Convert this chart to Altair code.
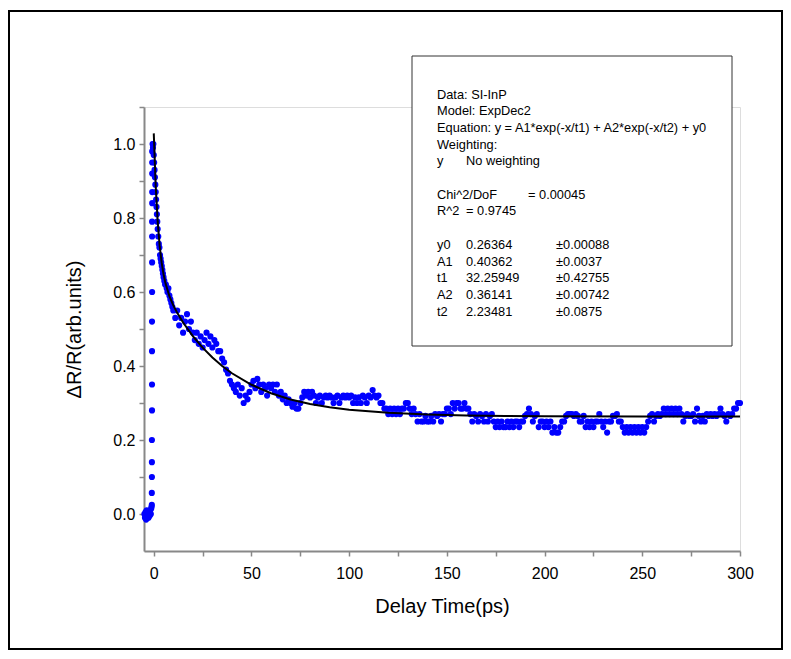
import altair as alt
import pandas as pd

# ---------------- data ----------------
pre_x = [-4.8, -4.5, -4.2, -3.9, -3.6, -3.3, -3.0, -2.7, -2.4, -2.1, -1.8, -1.5, -1.3, -1.1]
pre_y = [0.0, -0.01, 0.005, -0.015, 0.01, -0.005, 0.0, -0.01, 0.005, -0.005, 0.01, 0.0, 0.015, 0.02]

rise_x = [-1.0, -1.0, -0.95, -0.95, -0.95, -0.9, -0.9, -0.9, -0.9, -0.85, -0.85, -0.85, -0.85, -0.8, -0.8, -0.8, -0.8]
rise_y = [0.025, 0.057, 0.10, 0.14, 0.20, 0.28, 0.35, 0.44, 0.52, 0.60, 0.68, 0.75, 0.79, 0.84, 0.87, 0.92, 0.95]

early_x = [-0.8, -0.6, -0.4, -0.2, 0.0, 0.2, 0.4, 0.6, 0.8, 1.0, 1.2, 1.4, 1.6, 1.8, 2.0,
           2.3, 2.6, 2.9, 3.2, 3.5, 3.8, 4.1, 4.4, 4.7, 5.0, 5.4, 5.8, 6.2, 6.6, 7.0,
           7.5, 8.0, 8.5, 9.0, 9.5]
early_y = [0.98, 1.0, 0.99, 1.0, 0.97, 0.95, 0.93, 0.91, 0.89, 0.87, 0.85, 0.83, 0.81, 0.79, 0.77,
           0.75, 0.73, 0.72, 0.70, 0.69, 0.68, 0.67, 0.66, 0.65, 0.64, 0.63, 0.62, 0.62, 0.61, 0.60,
           0.61, 0.59, 0.58, 0.57, 0.56]

# values at 1 ps steps
y_010_049 = [0.55, 0.53, 0.55, 0.51, 0.53, 0.49, 0.52, 0.54, 0.50, 0.52,
             0.49, 0.47, 0.49, 0.46, 0.48, 0.45, 0.47, 0.49, 0.46, 0.48,
             0.45, 0.47, 0.46, 0.44, 0.44, 0.42, 0.41, 0.39, 0.38, 0.36,
             0.35, 0.34, 0.33, 0.35, 0.32, 0.34, 0.30, 0.32, 0.31, 0.33]
y_050_099 = [0.35, 0.36, 0.34, 0.365, 0.35, 0.33, 0.35, 0.34, 0.32, 0.35,
             0.34, 0.35, 0.33, 0.35, 0.32, 0.33, 0.31, 0.32, 0.30, 0.31,
             0.30, 0.29, 0.30, 0.285, 0.285, 0.30, 0.315, 0.33, 0.32, 0.33,
             0.315, 0.33, 0.32, 0.30, 0.315, 0.32, 0.30, 0.315, 0.32, 0.315,
             0.32, 0.315, 0.30, 0.315, 0.32, 0.30, 0.315, 0.32, 0.315, 0.32]
y_100_149 = [0.315, 0.32, 0.30, 0.315, 0.30, 0.315, 0.30, 0.32, 0.315, 0.30,
             0.32, 0.315, 0.335, 0.32, 0.315, 0.32, 0.30, 0.30, 0.285, 0.285,
             0.27, 0.285, 0.27, 0.285, 0.27, 0.285, 0.27, 0.285, 0.285, 0.30,
             0.30, 0.285, 0.27, 0.285, 0.27, 0.25, 0.27, 0.25, 0.25, 0.265,
             0.25, 0.25, 0.265, 0.25, 0.27, 0.265, 0.27, 0.25, 0.27, 0.27]
y_150_199 = [0.285, 0.285, 0.27, 0.30, 0.285, 0.30, 0.30, 0.285, 0.285, 0.30,
             0.285, 0.285, 0.27, 0.25, 0.27, 0.265, 0.25, 0.27, 0.265, 0.25,
             0.27, 0.25, 0.265, 0.27, 0.25, 0.235, 0.25, 0.235, 0.25, 0.235,
             0.235, 0.25, 0.235, 0.25, 0.235, 0.25, 0.25, 0.235, 0.25, 0.25,
             0.265, 0.27, 0.285, 0.27, 0.25, 0.265, 0.27, 0.235, 0.25, 0.25]
y_200_249 = [0.235, 0.25, 0.235, 0.25, 0.22, 0.235, 0.22, 0.22, 0.235, 0.25,
             0.25, 0.265, 0.27, 0.27, 0.27, 0.265, 0.27, 0.265, 0.25, 0.25,
             0.265, 0.235, 0.25, 0.235, 0.25, 0.235, 0.25, 0.25, 0.27, 0.25,
             0.235, 0.25, 0.22, 0.25, 0.25, 0.265, 0.265, 0.27, 0.25, 0.25,
             0.235, 0.22, 0.235, 0.22, 0.235, 0.22, 0.235, 0.22, 0.235, 0.22]
y_250_300 = [0.235, 0.22, 0.235, 0.25, 0.265, 0.27, 0.25, 0.265, 0.27, 0.265,
             0.27, 0.285, 0.27, 0.285, 0.27, 0.285, 0.27, 0.285, 0.27, 0.285,
             0.27, 0.25, 0.265, 0.27, 0.265, 0.265, 0.27, 0.25, 0.285, 0.265,
             0.25, 0.265, 0.25, 0.27, 0.265, 0.27, 0.265, 0.27, 0.265, 0.27,
             0.285, 0.27, 0.265, 0.25, 0.27, 0.265, 0.27, 0.285, 0.285, 0.30, 0.30]

fit_x = [0, 1, 2, 3, 4, 5, 6, 8, 10, 12, 15, 20, 25, 30, 35, 40, 50, 60, 70, 80, 90,
         100, 120, 140, 160, 180, 200, 250, 300]
fit_y = [1.0287, 0.8860, 0.7907, 0.7258, 0.6805, 0.6479, 0.6234, 0.5887, 0.5638, 0.5436,
         0.5176, 0.4808, 0.4496, 0.4229, 0.4000, 0.3804, 0.3493, 0.3265, 0.3097, 0.2974,
         0.2884, 0.2818, 0.2734, 0.2689, 0.2665, 0.2652, 0.2645, 0.2638, 0.2637]

box_col1 = ["Data: SI-InP", "Model: ExpDec2",
            "Equation: y = A1*exp(-x/t1) + A2*exp(-x/t2) + y0", "Weighting:", "y", "",
            "Chi^2/DoF", "R^2", "", "y0", "A1", "t1", "A2", "t2"]
box_col2 = ["", "", "", "", "No weighting", "", "", "=  0.9745", "",
            "0.26364", "0.40362", "32.25949", "0.36141", "2.23481"]
box_col3 = ["", "", "", "", "", "", "= 0.00045", "", "", "", "", "", "", ""]
box_col4 = ["", "", "", "", "", "", "", "", "",
            "\u00b10.00088", "\u00b10.0037", "\u00b10.42755", "\u00b10.00742", "\u00b10.0875"]

x_ticks = [0, 25, 50, 75, 100, 125, 150, 175, 200, 225, 250, 275, 300]
y_ticks = [0.0, 0.1, 0.2, 0.3, 0.4, 0.5, 0.6, 0.7, 0.8, 0.9, 1.0, 1.1]

# ---------------- tables ----------------
xs = pre_x + rise_x + early_x
ys = pre_y + rise_y + early_y
for start, seg in [(10, y_010_049), (50, y_050_099), (100, y_100_149),
                   (150, y_150_199), (200, y_200_249), (250, y_250_300)]:
    xs += list(range(start, start + len(seg)))
    ys += seg
pts = pd.DataFrame({"t": xs, "v": ys})
fit = pd.DataFrame({"t": fit_x, "v": fit_y})
one = pd.DataFrame({"a": [0]})

FONT = "Liberation Sans"
PW, PH = 596, 444

xscale = alt.Scale(domain=[-5, 300], nice=False, zero=False)
yscale = alt.Scale(domain=[-0.1, 1.1], nice=False, zero=False)

xaxis = alt.Axis(values=x_ticks, labelExpr="datum.value % 50 == 0 ? datum.label : ''",
                 grid=False, title="Delay Time(ps)", titleFontSize=20, titleFontWeight="normal",
                 titleY=55, titleBaseline="middle", labelFontSize=16, labelPadding=9,
                 tickSize=5, tickWidth=1.5, domainWidth=2, labelFlush=False)
yaxis = alt.Axis(values=y_ticks,
                 labelExpr="round(datum.value*10) % 2 == 0 ? format(datum.value, '.1f') : ''",
                 grid=False, title="\u0394R/R(arb.units)", titleFontSize=20, titleFontWeight="normal",
                 titleX=-70, titleY=PH / 2, titleAngle=270, titleAlign="center",
                 titleBaseline="middle", labelFontSize=16, labelPadding=4,
                 tickSize=5, tickWidth=1.5, domainWidth=2, labelFlush=False)

frame = alt.Chart(one).mark_rect(fill="transparent", stroke="black", strokeWidth=2).encode(
    x=alt.value(-135), x2=alt.value(638), y=alt.value(-96), y2=alt.value(542))
box = alt.Chart(one).mark_rect(fill="white", stroke="#333333", strokeWidth=1).encode(
    x=alt.value(268), x2=alt.value(588), y=alt.value(-51), y2=alt.value(239))

LINE_H = 16.7
TEXT_Y0 = -12.5
text_layers = []
for lines, xpix in [(box_col1, 293), (box_col2, 322), (box_col3, 384), (box_col4, 412)]:
    for i, s in enumerate(lines):
        if s:
            text_layers.append(
                alt.Chart(one).mark_text(text=s, font=FONT, fontSize=12.8, align="left",
                                         baseline="middle", color="black").encode(
                    x=alt.value(xpix), y=alt.value(TEXT_Y0 + i * LINE_H)))

scatter = alt.Chart(pts).mark_circle(size=38, color="#0000ff", opacity=1).encode(
    x=alt.X("t:Q", scale=xscale, axis=xaxis),
    y=alt.Y("v:Q", scale=yscale, axis=yaxis))
line = alt.Chart(fit).mark_line(color="black", strokeWidth=2).encode(
    x=alt.X("t:Q", scale=xscale), y=alt.Y("v:Q", scale=yscale))

chart = alt.layer(frame, box, *text_layers, scatter, line).properties(
    width=PW, height=PH,
    autosize=alt.AutoSizeParams(type="none"),
    padding={"left": 136, "top": 99, "right": 43, "bottom": 100},
).configure_view(stroke=None).configure_axis(
    grid=False, domainColor="black", tickColor="black", labelColor="black",
    titleColor="black", labelFont=FONT, titleFont=FONT
).configure(background="white")

chart.save("out.html", embed_options={"renderer": "svg", "actions": False})
